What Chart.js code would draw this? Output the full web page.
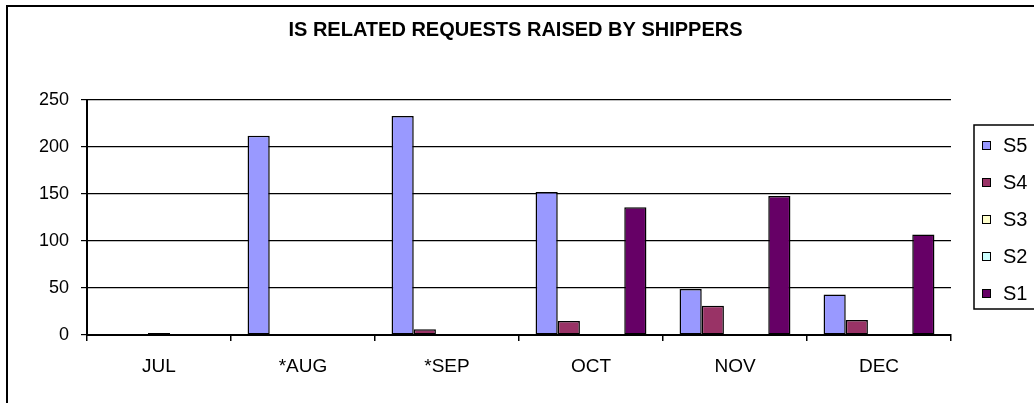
<!DOCTYPE html>
<html>
<head>
<meta charset="utf-8">
<title>IS related requests raised by shippers</title>
<script src="https://cdn.jsdelivr.net/npm/chart.js@4.4.1/dist/chart.umd.min.js"></script>
<style>
  html, body { margin: 0; padding: 0; background: #fff; overflow: hidden; }
  #frame {
    position: absolute; left: 6px; top: 5px; width: 1100px; height: 500px;
    border: 2px solid #000; pointer-events: none;
  }
  canvas { position: absolute; left: 0; top: 0; }
</style>
</head>
<body>
<canvas id="requests" width="1034" height="403"></canvas>
<div id="frame"></div>
<script>
const months = ["JUL", "*AUG", "*SEP", "OCT", "NOV", "DEC"]

const s5 = [0, 212, 233, 152, 49, 43]
const s4 = [0, 0, 6, 15, 31, 16]
const s3 = [2, 0, 0, 0, 0, 0]
const s2 = [0, 0, 0, 0, 0, 0]
const s1 = [0, 0, 0, 136, 148, 107]

const yTicks = [0, 50, 100, 150, 200, 250]

const colors = {
	s5: '#9999FF',
	s4: '#993366',
	s3: '#FFFFCC',
	s2: '#CCFFFF',
	s1: '#660066'
}

const font = "'Liberation Sans', Arial, sans-serif"

// Excel style legend: boxed, to the right of the plot
const boxedLegend = {
	id: 'boxedLegend',
	afterDraw(chart) {
		const ctx = chart.ctx
		const left = chart.chartArea.right + 23
		const top = 125
		const bottom = 309
		ctx.save()
		ctx.strokeStyle = '#000'
		ctx.lineWidth = 1.5
		ctx.strokeRect(left, top, 200, bottom - top)
		ctx.font = "20px " + font
		ctx.textBaseline = 'middle'
		chart.data.datasets.forEach((ds, i) => {
			const y = 145 + i * 37
			ctx.fillStyle = ds.backgroundColor
			ctx.fillRect(left + 8, y - 4, 8, 8)
			ctx.lineWidth = 1
			ctx.strokeRect(left + 8.5, y - 3.5, 8, 8)
			ctx.fillStyle = '#000'
			ctx.fillText(ds.label, left + 29, y + 1)
		})
		ctx.restore()
	}
}

const chart = new Chart("requests", {
	type: "bar",
	data: {
		labels: months,
		datasets: [
			{ label: 'S5', data: s5, backgroundColor: colors.s5 },
			{ label: 'S4', data: s4, backgroundColor: colors.s4 },
			{ label: 'S3', data: s3, backgroundColor: colors.s3 },
			{ label: 'S2', data: s2, backgroundColor: colors.s2 },
			{ label: 'S1', data: s1, backgroundColor: colors.s1 }
		]
	},
	options: {
		responsive: false,
		animation: false,
		devicePixelRatio: 1,
		layout: { padding: { left: 39, right: 42, top: 0, bottom: 18 } },
		datasets: {
			bar: {
				categoryPercentage: 0.77,
				barPercentage: 1,
				borderColor: '#000',
				borderWidth: 1.5,
				borderSkipped: false
			}
		},
		plugins: {
			legend: { display: false },
			tooltip: { enabled: false },
			title: {
				display: true,
				text: 'IS RELATED REQUESTS RAISED BY SHIPPERS',
				color: '#000',
				font: { family: font, size: 20, weight: 'bold' },
				padding: { top: 18, bottom: 58 }
			}
		},
		scales: {
			x: {
				afterFit(scale) { scale.height = 50 },
				grid: {
					offset: true,
					drawOnChartArea: false,
					drawTicks: true,
					tickLength: 6,
					color: '#000',
					lineWidth: 1.5
				},
				border: { color: '#000', width: 2 },
				ticks: {
					color: '#000',
					padding: 14,
					font: { family: font, size: 19 }
				}
			},
			y: {
				min: 0,
				max: 250,
				afterFit(scale) { scale.width = 48 },
				afterBuildTicks(scale) {
					scale.ticks = yTicks.map((v) => ({ value: v }))
				},
				grid: {
					color: '#000',
					lineWidth: 1.2,
					tickLength: 6
				},
				border: { color: '#000', width: 2 },
				ticks: {
					color: '#000',
					padding: 12,
					font: { family: font, size: 18 }
				}
			},
			// empty strip on the right where the legend box sits, so the title stays centred
			legendSpace: {
				position: 'right',
				afterFit(scale) { scale.width = 41 },
				grid: { display: false, drawTicks: false },
				border: { display: false },
				ticks: { display: false }
			}
		}
	},
	plugins: [boxedLegend]
})
</script>
</body>
</html>
